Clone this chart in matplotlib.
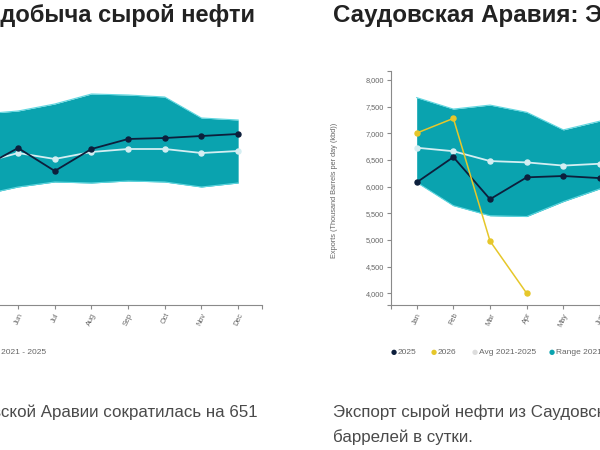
import matplotlib.pyplot as plt
import numpy as np

plt.rcParams['font.family'] = ['Liberation Sans', 'DejaVu Sans']

months = ['Jan', 'Feb', 'Mar', 'Apr', 'May', 'Jun',
          'Jul', 'Aug', 'Sep', 'Oct', 'Nov', 'Dec']

# добыча (kbd) - Jan..Apr are off the visible part of the page
prod_2025 = [8950, 8960, 8950, 9000, 9560, 9960, 9500, 9940, 10140, 10160, 10200, 10240]
prod_avg = [9750, 9700, 9650, 9640, 9660, 9860, 9740, 9880, 9940, 9940, 9860, 9900]
prod_max = [10500, 10550, 10600, 10620, 10640, 10700, 10840, 11040, 11020, 10980, 10560, 10520]
prod_min = [8950, 8960, 8950, 9000, 9020, 9180, 9280, 9260, 9300, 9280, 9180, 9260]

# экспорт (kbd) - Jul..Dec are off the visible part of the page
exp_2025 = [6080, 6555, 5765, 6175, 6200, 6160, 6250, 6300, 6400, 6450, 6500, 6550]
exp_2026 = [7005, 7280, 4980, 4000]
exp_avg = [6730, 6665, 6480, 6455, 6395, 6430, 6450, 6500, 6450, 6420, 6450, 6500]
exp_max = [7670, 7455, 7530, 7395, 7065, 7230, 7300, 7350, 7300, 7250, 7300, 7350]
exp_min = [6080, 5645, 5455, 5440, 5720, 5960, 6000, 6050, 6000, 5950, 6000, 6050]

TEAL = '#0aa3af'
EDGE = '#5fd6df'
NAVY = '#0d1f3c'
YELLOW = '#e6c72a'
AVG = '#d4eef2'
AXIS = '#8a8a8a'
TXT = '#666666'
BODY = '#4a4a4a'

W, H = 600, 450
fig = plt.figure(figsize=(6, 4.5), dpi=100)


def px(x, y):
    return x / W, 1 - y / H


def draw_chart(left_px, ylim, s2025, savg, smax, smin, s2026=None, yticks=None):
    ax = fig.add_axes([left_px / W, 1 - 305 / H, 453 / W, 234 / H])
    x = np.arange(len(months))
    ax.fill_between(x, smin, smax, color=TEAL, lw=0, zorder=1)
    ax.plot(x, smax, color=EDGE, lw=0.8, zorder=1.5)
    ax.plot(x, smin, color=EDGE, lw=0.8, zorder=1.5)
    ax.plot(x, savg, color=AVG, lw=1.3, marker='o', ms=3.6, zorder=2)
    ax.plot(x, s2025, color=NAVY, lw=1.3, marker='o', ms=3.6, zorder=3)
    if s2026 is not None:
        x26 = np.arange(len(s2026))
        ax.plot(x26, s2026, color=YELLOW, lw=1.1, marker='o', ms=3.6, zorder=4)
    xlim = (-0.7, 11.65)
    ax.set_xlim(*xlim)
    ax.set_ylim(*ylim)
    ax.set_xticks(x)
    ax.set_xticklabels(months, rotation=65, ha='right', rotation_mode='anchor',
                       fontsize=5.3, color=TXT)
    # outer ticks at the axis ends, like a d3 domain path
    ax.set_xticks(xlim, minor=True)
    if yticks is not None:
        ax.set_yticks(yticks)
        ax.set_yticklabels([f'{v:,}' for v in yticks], fontsize=5.3, color=TXT)
        ax.set_yticks(ylim, minor=True)
    else:
        ax.set_yticks([])
    ax.tick_params(which='both', length=3, width=0.8, color=AXIS, pad=2)
    for side in ['top', 'right']:
        ax.spines[side].set_visible(False)
    for side in ['left', 'bottom']:
        ax.spines[side].set_color(AXIS)
        ax.spines[side].set_linewidth(0.8)
    ax.set_facecolor('none')

    # legend under the chart
    entries = [('2025', NAVY), ('2026', YELLOW), ('Avg 2021-2025', '#dddddd'),
               ('Range 2021 - 2025', TEAL)]
    offs = [0, 40, 81, 158]
    for (lab, c), o in zip(entries, offs):
        fig.text(*px(left_px + o, 352), '\u25cf', color=c, fontsize=5,
                 va='center', ha='left', family='DejaVu Sans')
        fig.text(*px(left_px + o + 7, 352.5), lab, color=TXT, fontsize=6,
                 va='center', ha='left')
    return ax


# left chart: production (mostly off-page to the left)
draw_chart(-191, (6820, 11500), prod_2025, prod_avg, prod_max, prod_min)

# right chart: exports
ax2 = draw_chart(391, (3781, 8169), exp_2025, exp_avg, exp_max, exp_min,
                 s2026=exp_2026,
                 yticks=[4000, 4500, 5000, 5500, 6000, 6500, 7000, 7500, 8000])
fig.text(*px(335, 190), 'Exports (Thousand Barrels per day (kbd))', rotation=90,
         fontsize=5.3, color=TXT, ha='center', va='center')

# headings
fig.text(*px(255, 22), 'Саудовская Аравия: добыча сырой нефти', fontsize=17,
         fontweight='bold', color='#222222', ha='right', va='baseline')
fig.text(*px(333, 22), 'Саудовская Аравия: Экспорт сырой нефти', fontsize=17.4,
         fontweight='bold', color='#222222', ha='left', va='baseline')

# paragraph text
fig.text(*px(258, 417), 'Добыча сырой нефти в Саудовской Аравии сократилась на 651',
         fontsize=12.2, color=BODY, ha='right', va='baseline')
fig.text(*px(333, 417), 'Экспорт сырой нефти из Саудовской Аравии сократился на',
         fontsize=12.2, color=BODY, ha='left', va='baseline')
fig.text(*px(333, 442), 'баррелей в сутки.',
         fontsize=12.2, color=BODY, ha='left', va='baseline')

fig.savefig('out.png', dpi=100)
